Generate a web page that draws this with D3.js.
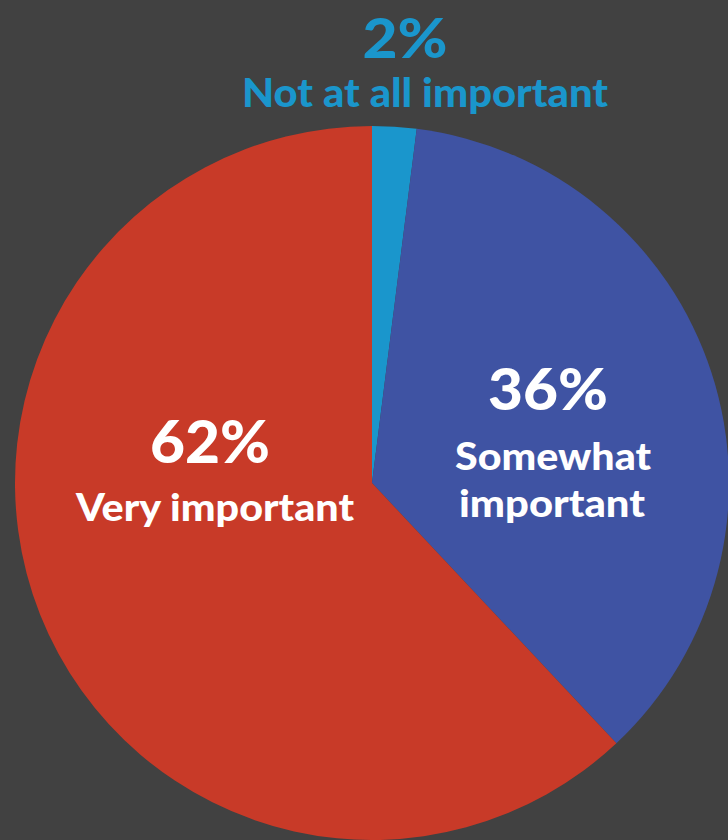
<!DOCTYPE html>
<html>
<head>
<meta charset="utf-8">
<script src="https://cdn.jsdelivr.net/npm/d3@7"></script>
<style>
  html, body { margin: 0; padding: 0; background: #414141; }
  svg { display: block; }
  text { font-family: "Lato", "Open Sans", sans-serif; font-weight: 900; }
</style>
</head>
<body>
<svg id="chart" width="728" height="840"></svg>
<script>
// Survey answers, in clockwise order from 12 o'clock
const categories = ["Not at all important", "Somewhat important", "Very important"];
const values = [2, 36, 62];
const colors = ["#1a96cc", "#3f53a3", "#c83a28"];
const labelLines = [["Not at all important"], ["Somewhat", "important"], ["Very important"]];

const width = 728, height = 840;
const cx = 372, cy = 483, radius = 357;

const svg = d3.select("#chart");
svg.append("rect").attr("width", width).attr("height", height).attr("fill", "#414141");

const pie = d3.pie().sort(null).value(d => d)(values);
const arc = d3.arc().innerRadius(0).outerRadius(radius);
const color = d3.scaleOrdinal().domain(categories).range(colors);

const g = svg.append("g").attr("transform", `translate(${cx},${cy})`);
g.selectAll("path.slice")
  .data(pie)
  .join("path")
  .attr("class", "slice")
  .attr("d", arc)
  .attr("fill", (d, i) => color(categories[i]));

// Label layout per slice (relative to the pie centre): the percentage on top,
// then the category lines; each text is fitted to a set width.
const labelLayout = [
  { fill: colors[0],
    pct: { x: 33, y: -425, size: 56, w: 85 },
    lines: [{ x: 53, y: -376, size: 39, w: 366 }] },
  { fill: "#ffffff",
    pct: { x: 176, y: -73, size: 58, w: 120 },
    lines: [{ x: 181, y: -13, size: 37, w: 196 }, { x: 180, y: 34, size: 37, w: 186 }] },
  { fill: "#ffffff",
    pct: { x: -162, y: -20, size: 59, w: 120 },
    lines: [{ x: -157, y: 38, size: 37, w: 278 }] }
];

function fittedText(parent, cfg, str, fill) {
  parent.append("text")
    .attr("x", cfg.x)
    .attr("y", cfg.y)
    .attr("text-anchor", "middle")
    .attr("font-size", cfg.size)
    .attr("textLength", cfg.w)
    .attr("lengthAdjust", "spacingAndGlyphs")
    .attr("fill", fill)
    .text(str);
}

pie.forEach((d, i) => {
  const L = labelLayout[i];
  fittedText(g, L.pct, d.data + "%", L.fill);
  labelLines[i].forEach((line, j) => fittedText(g, L.lines[j], line, L.fill));
});
</script>
</body>
</html>
